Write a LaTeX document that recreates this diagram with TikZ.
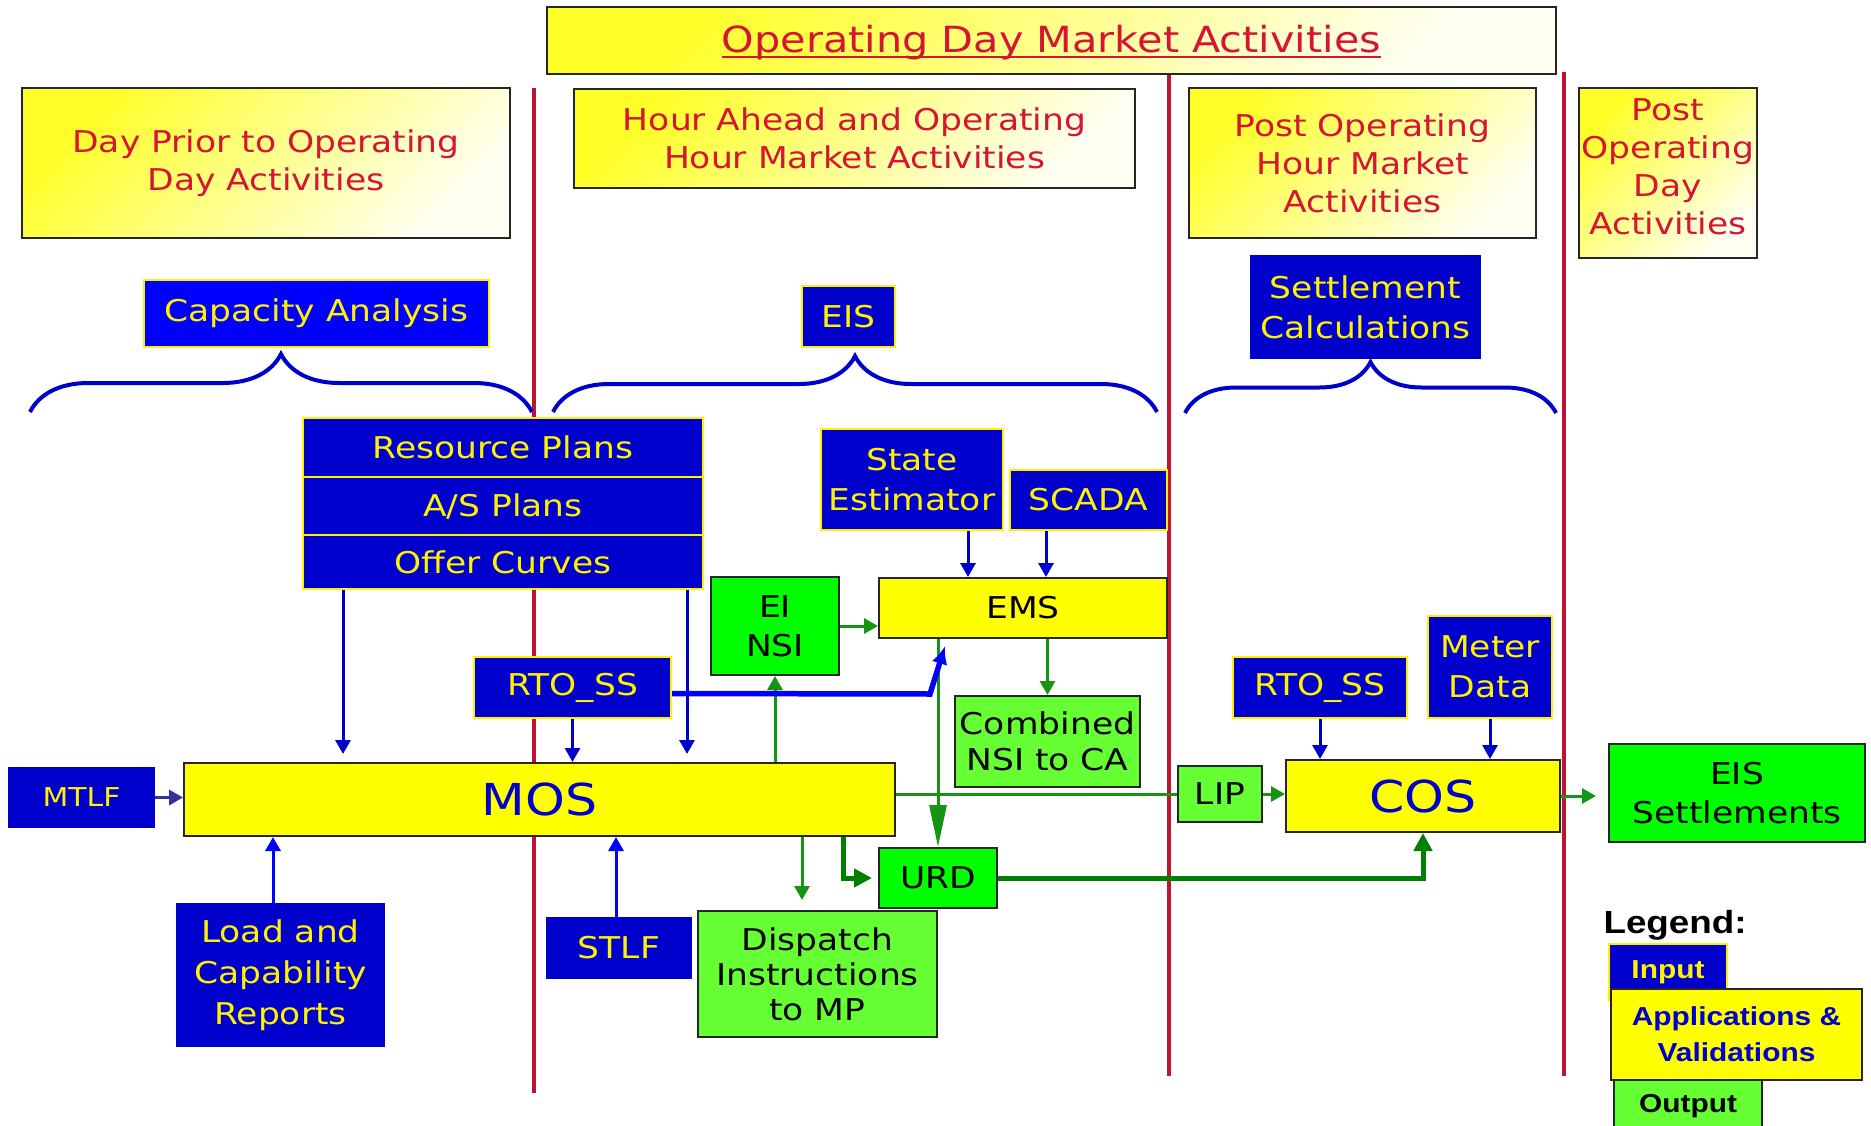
\documentclass[tikz,border=0pt]{standalone}
\usepackage{fontspec}
\setmainfont{DejaVu Sans}[FakeStretch=1.15]
\newfontfamily\legendfont{Liberation Sans}[FakeStretch=1.15]
\usetikzlibrary{arrows.meta,decorations.pathreplacing}

\definecolor{inblue}{RGB}{0,0,204}
\definecolor{brightblue}{RGB}{0,0,255}
\definecolor{appyellow}{RGB}{255,255,0}
\definecolor{outgreen}{RGB}{0,255,0}
\definecolor{litegreen}{RGB}{102,255,51}
\definecolor{hdrred}{RGB}{215,20,50}
\definecolor{divred}{RGB}{190,20,50}
\definecolor{flowgreen}{RGB}{20,150,20}
\definecolor{darkflow}{RGB}{0,128,0}
\definecolor{mtlfblue}{RGB}{51,51,153}
\definecolor{hdrtop}{RGB}{255,255,40}
\definecolor{hdrbot}{RGB}{255,255,242}

\begin{document}
\begin{tikzpicture}[x=1pt,y=-1pt,
    hdrbox/.style={draw=black!85,line width=2pt,top color=hdrtop,bottom color=hdrbot,shading angle=45,
                   text=hdrred,align=center,inner sep=0pt,font=\fontsize{30}{38}\selectfont},
    inbox/.style={draw=yellow,line width=2pt,fill=inblue,text=yellow,align=center,inner sep=0pt,
                  font=\fontsize{30}{40}\selectfont},
    plainin/.style={inbox,draw=inblue},
    appbox/.style={draw=black!85,line width=2pt,fill=appyellow,text=inblue,align=center,inner sep=0pt,
                   font=\fontsize{44}{50}\selectfont},
    emsbox/.style={appbox,text=black,font=\fontsize{30}{38}\selectfont},
    outbox/.style={draw=black!85,line width=2pt,fill=outgreen,text=black,align=center,inner sep=0pt,
                   font=\fontsize{30}{39}\selectfont},
    liteout/.style={outbox,fill=litegreen},
    divider/.style={divred,line width=4.5pt},
    bracket/.style={draw=inblue,line width=4pt,decorate,decoration={brace,amplitude=#1}},
    inarrow/.style={inblue,line width=3pt,-{Triangle[length=14pt,width=15pt]}},
    outarrow/.style={flowgreen,line width=3pt,-{Triangle[length=14pt,width=15pt]}},
    flowline/.style={flowgreen,line width=3pt},
    thickflow/.style={darkflow,line width=5pt,-{Triangle[length=18pt,width=18pt]}},
    rtoflow/.style={brightblue,line width=5.5pt,-{Latex[length=18pt,width=16pt]}}]
\useasboundingbox (0,0) rectangle (1871,1126);

% phase dividers
\draw[divider] (534,88) -- (534,1093);
\draw[divider] (1169,75) -- (1169,1076);
\draw[divider] (1564,72) -- (1564,1076);

% braces
\draw[bracket=58pt] (30,412) -- (532,412);
\draw[bracket=56pt] (553,412) -- (1157,412);
\draw[bracket=51pt] (1185,413) -- (1556,413);

% headers
\node[hdrbox,line width=2.5pt,minimum width=1009pt,minimum height=67pt] (title) at (1051.5,40.5) {};
\node[anchor=base,text=hdrred,inner sep=0pt,font=\fontsize{36}{40}\selectfont] (titletext) at (1051.5,53) {Operating Day Market Activities};
\draw[hdrred,line width=2.5pt] ([yshift=-4pt]titletext.base west) -- ([yshift=-4pt]titletext.base east);
\node[hdrbox,minimum width=488pt,minimum height=150pt] (dayprior) at (266,163) {Day Prior to Operating\\Day Activities};
\node[hdrbox,minimum width=561pt,minimum height=99pt] (hourahead) at (854.5,138.5) {Hour Ahead and Operating\\Hour Market Activities};
\node[hdrbox,minimum width=347pt,minimum height=150pt] (posthour) at (1362.5,163) {Post Operating\\Hour Market\\Activities};
\node[hdrbox,minimum width=178pt,minimum height=170pt,text depth=12pt] (postday) at (1668,173) {Post\\Operating\\Day\\Activities};

\node[inbox,fill=brightblue,minimum width=345pt,minimum height=67pt] (capacity) at (316.5,313.5) {Capacity Analysis};
\node[inbox,minimum width=93pt,minimum height=61pt] (eis) at (848.5,316.5) {EIS};
\node[plainin,minimum width=229pt,minimum height=102pt] (settle) at (1365.5,307) {Settlement\\Calculations};

% inputs and applications
\node[inbox,minimum width=400pt,minimum height=59pt] (resplans) at (503,447.5) {Resource Plans};
\node[inbox,minimum width=400pt,minimum height=58pt] (asplans) at (503,506) {A/S Plans};
\node[inbox,minimum width=400pt,minimum height=54pt] (offer) at (503,562) {Offer Curves};
\node[inbox,minimum width=182pt,minimum height=101pt] (stateest) at (912,479.5) {State\\Estimator};
\node[inbox,minimum width=157pt,minimum height=60pt] (scada) at (1088.5,500) {SCADA};
\node[emsbox,minimum width=288pt,minimum height=60pt] (ems) at (1023,608) {EMS};
\node[outbox,minimum width=128pt,minimum height=98pt] (einsi) at (775,626) {EI\\NSI};
\node[liteout,minimum width=185pt,minimum height=91pt,font=\fontsize{30}{36}\selectfont] (combined) at (1047.5,741.5) {Combined\\NSI to CA};
\node[inbox,minimum width=197pt,minimum height=61pt] (rtoL) at (572.5,687.5) {RTO\_SS};
\node[appbox,minimum width=711pt,minimum height=73pt] (mos) at (539.5,799.5) {MOS};
\node[plainin,minimum width=145pt,minimum height=59pt,font=\fontsize{26}{30}\selectfont] (mtlf) at (81.5,797.5) {MTLF};
\node[liteout,minimum width=84pt,minimum height=56pt] (lip) at (1220,794) {LIP};
\node[appbox,minimum width=274pt,minimum height=72pt] (cos) at (1423,796) {COS};
\node[inbox,minimum width=174pt,minimum height=61pt] (rtoR) at (1320,687.5) {RTO\_SS};
\node[inbox,minimum width=124pt,minimum height=102pt] (meter) at (1490,667) {Meter\\Data};
\node[outbox,minimum width=256pt,minimum height=98pt] (eisset) at (1737,793) {EIS\\Settlements};
\node[outbox,minimum width=118pt,minimum height=60pt] (urd) at (938,878) {URD};
\node[plainin,minimum width=207pt,minimum height=142pt,font=\fontsize{30}{41}\selectfont] (loadcap) at (280.5,975) {Load and\\Capability\\Reports};
\node[plainin,minimum width=144pt,minimum height=60pt] (stlf) at (619,948) {STLF};
\node[liteout,minimum width=239pt,minimum height=126pt,font=\fontsize{30}{35}\selectfont] (dispatch) at (817.5,974) {Dispatch\\Instructions\\to MP};

% legend
\node[anchor=base west,font=\legendfont\bfseries\fontsize{32}{38}\selectfont] (legend) at (1600,933) {Legend:};
\node[inbox,minimum width=118pt,minimum height=56pt,font=\legendfont\bfseries\fontsize{26}{30}\selectfont] (input) at (1668,972) {Input};
\node[appbox,minimum width=251pt,minimum height=91pt,font=\legendfont\bfseries\fontsize{26}{36}\selectfont] (apps) at (1736.5,1034.5) {Applications \&\\Validations};
\node[liteout,minimum width=148pt,minimum height=52pt,font=\legendfont\bfseries\fontsize{26}{30}\selectfont] (output) at (1688,1106) {Output};

% data flows
\draw[inarrow,shorten >=8pt] (343,0 |- offer.south) -- (343,0 |- mos.north);
\draw[inarrow,shorten >=8pt] (687,0 |- offer.south) -- (687,0 |- mos.north);
\draw[inarrow] (rtoL.south) -- (rtoL.south |- mos.north);
\draw[inarrow] (968,0 |- stateest.south) -- (968,0 |- ems.north);
\draw[inarrow] (1046,0 |- scada.south) -- (1046,0 |- ems.north);
\draw[inarrow] (rtoR.south) -- (rtoR.south |- cos.north);
\draw[inarrow] (meter.south) -- (meter.south |- cos.north);
\draw[inarrow,mtlfblue,line width=3.5pt] (mtlf.east) -- (mtlf.east -| mos.west);
\draw[inarrow,brightblue] (273,0 |- loadcap.north) -- (273,0 |- mos.south);
\draw[inarrow,brightblue] (616,0 |- stlf.north) -- (616,0 |- mos.south);
\draw[outarrow] (einsi.south |- mos.north) -- (einsi.south);
\draw[outarrow] (einsi.east) -- (einsi.east -| ems.west);
\draw[outarrow] (combined.north |- ems.south) -- (combined.north);
\draw[outarrow,shorten >=10pt] (802,0 |- mos.south) -- (802,0 |- dispatch.north);
\draw[flowline] (mos.east |- lip.west) -- (lip.west);
\draw[outarrow] (lip.east) -- (lip.east -| cos.west);
\draw[outarrow,shorten >=12pt] (cos.east) -- (cos.east -| eisset.west);
\draw[outarrow,-{Triangle[length=42pt,width=17pt]}] (urd.north |- ems.south) -- (urd.north);
\draw[thickflow,shorten >=6pt] (843,0 |- mos.south) |- (urd.west);
\draw[thickflow] (urd.east) -| (cos.south);
\draw[rtoflow] ([yshift=-6pt]rtoL.east) -- (930,694) -- ([xshift=-78pt,yshift=-7pt]ems.south);
\end{tikzpicture}
\end{document}
